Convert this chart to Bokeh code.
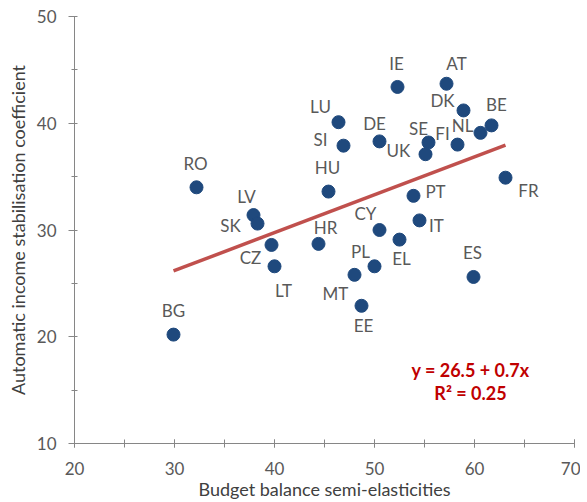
import numpy as np
from bokeh.plotting import figure
from bokeh.models import ColumnDataSource, SingleIntervalTicker, Range1d, Label
from bokeh.core.properties import value
from bokeh.embed import file_html
from bokeh.resources import INLINE

countries = ["BG", "RO", "LV", "SK", "CZ", "LT", "HR", "HU", "LU", "SI", "DE", "IE", "AT", "DK",
             "BE", "NL", "FI", "SE", "UK", "FR", "PT", "IT", "CY", "EL", "PL", "MT", "EE", "ES"]
semi_elasticity = [29.9, 32.2, 37.9, 38.3, 39.7, 40.0, 44.4, 45.4, 46.4, 46.9, 50.5, 52.3, 57.2, 58.9,
                   61.7, 60.6, 58.3, 55.4, 55.1, 63.1, 53.9, 54.5, 50.5, 52.5, 50.0, 48.0, 48.7, 59.9]
stabilisation = [20.2, 34.0, 31.4, 30.6, 28.6, 26.6, 28.7, 33.6, 40.1, 37.9, 38.3, 43.4, 43.7, 41.2,
                 39.8, 39.1, 38.0, 38.2, 37.1, 34.9, 33.2, 30.9, 30.0, 29.1, 26.6, 25.8, 22.9, 25.6]
equation_text = "y = 26.5 + 0.7x"
r2_text = "R\u00b2 = 0.25"

# label placement (screen pixels, relative to point)
label_dx = [0, -1, -7, -27, -21, 9, 7, -1, -18, -23, -5, -1, 10, -21,
            5, -18, -15, -10, -27, 23, 22, 17, -14, 2, -14, -19, 2, -1]
label_dy = [-24, -24, -19, 2, 13, 24, -16, -24, -16, -6, -18, -23, -20, -10,
            -21, -7, -11, -14, -4, 13, -4, 5, -17, 19, -15, 19, 20, -24]

FONT = "Lato"
TXT = "#595959"

p = figure(width=580, height=502, output_backend="svg", toolbar_location=None,
           x_range=Range1d(20, 70), y_range=Range1d(10, 50),
           min_border_left=74, min_border_right=6, min_border_top=16, min_border_bottom=59)
p.outline_line_color = None
p.xgrid.visible = False
p.ygrid.visible = False
p.background_fill_color = "white"
p.border_fill_color = "white"

for ax in (p.xaxis[0], p.yaxis[0]):
    ax.ticker = SingleIntervalTicker(interval=10, num_minor_ticks=2)
    ax.axis_line_color = "#868686"
    ax.major_tick_line_color = "#868686"
    ax.minor_tick_line_color = "#868686"
    ax.major_label_text_font = FONT
    ax.major_label_text_font_size = "17px"
    ax.major_label_text_color = TXT
    ax.axis_label_text_font = FONT
    ax.axis_label_text_font_size = "18px"
    ax.axis_label_text_font_style = "normal"
    ax.axis_label_text_color = "#404040"

p.xaxis.major_tick_in = 4
p.xaxis.major_tick_out = 4
p.xaxis.minor_tick_in = 4
p.xaxis.minor_tick_out = 4
p.xaxis.major_label_standoff = 14
p.xaxis.axis_label = "Budget balance semi-elasticities"
p.xaxis.axis_label_standoff = 0

p.yaxis.major_tick_in = 0
p.yaxis.major_tick_out = 6
p.yaxis.minor_tick_in = 3
p.yaxis.minor_tick_out = 3
p.yaxis.major_label_standoff = 12
p.yaxis.axis_label = "Automatic income stabilisation coefficient"
p.yaxis.axis_label_standoff = 5

src = ColumnDataSource(dict(x=semi_elasticity, y=stabilisation, label=countries,
                            dx=label_dx, dy=label_dy))

# regression line across the data range
xs = np.array(semi_elasticity)
ys = np.array(stabilisation)
slope, intercept = np.polyfit(xs, ys, 1)
fit_x = [xs.min(), xs.max()]
fit_y = [intercept + slope * v for v in fit_x]
p.line(fit_x, fit_y, line_color="#C0504D", line_width=3.5)

p.scatter("x", "y", source=src, size=13, fill_color="#1F497D", line_color="#1F497D")
p.text("x", "y", text="label", source=src, x_offset="dx", y_offset="dy",
       text_font=value(FONT), text_font_size="17px", text_color=TXT,
       text_align="center", text_baseline="middle")

p.add_layout(Label(x=59.6, y=16.85, text=equation_text, text_font=FONT, text_font_size="18px",
                   text_font_style="bold", text_color="#C00000",
                   text_align="center", text_baseline="middle"))
p.add_layout(Label(x=59.6, y=14.7, text=r2_text, text_font=FONT, text_font_size="18px",
                   text_font_style="bold", text_color="#C00000",
                   text_align="center", text_baseline="middle"))

open("out.html", "w").write(file_html(p, INLINE))
